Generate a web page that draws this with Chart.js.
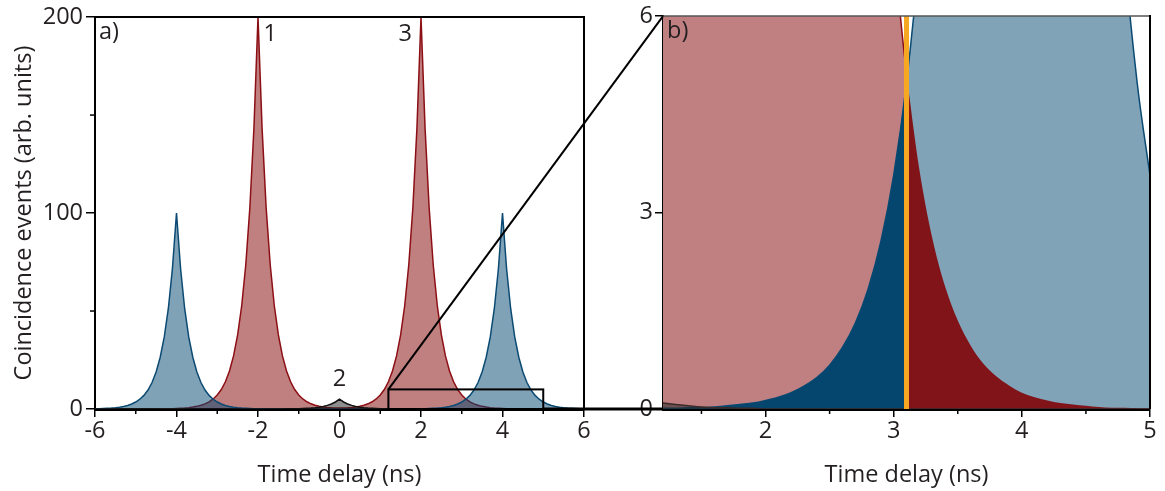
<!DOCTYPE html>
<html>
<head>
<meta charset="utf-8">
<script src="https://cdn.jsdelivr.net/npm/chart.js@4.4.1/dist/chart.umd.min.js"></script>
<style>
  html, body { margin: 0; padding: 0; background: #fff; }
  #page { position: relative; width: 1165px; height: 491px; overflow: hidden; }
  .panel { position: absolute; top: 0; }
  #chartA { left: 0; }
  #chartB { left: 600px; }
  #links { position: absolute; left: 0; top: 0; pointer-events: none; }
</style>
</head>
<body>
<div id="page">
  <canvas class="panel" id="chartA" width="600" height="491"></canvas>
  <canvas class="panel" id="chartB" width="565" height="491"></canvas>
  <canvas id="links" width="1165" height="491"></canvas>
</div>
<script>
// time delay grid (ns)
const delays = [
  -6, -5.9, -5.8, -5.7, -5.6, -5.5, -5.4, -5.3, -5.2, -5.1,
  -5, -4.9, -4.8, -4.7, -4.6, -4.5, -4.4, -4.3, -4.2, -4.1,
  -4, -3.9, -3.8, -3.7, -3.6, -3.5, -3.4, -3.3, -3.2, -3.1,
  -3, -2.9, -2.8, -2.7, -2.6, -2.5, -2.4, -2.3, -2.2, -2.1,
  -2, -1.9, -1.8, -1.7, -1.6, -1.5, -1.4, -1.3, -1.2, -1.1,
  -1, -0.9, -0.8, -0.7, -0.6, -0.5, -0.4, -0.3, -0.2, -0.1,
  0, 0.1, 0.2, 0.3, 0.4, 0.5, 0.6, 0.7, 0.8, 0.9,
  1, 1.1, 1.2, 1.3, 1.4, 1.5, 1.6, 1.7, 1.8, 1.9,
  2, 2.1, 2.2, 2.3, 2.4, 2.5, 2.6, 2.7, 2.8, 2.9,
  3, 3.1, 3.2, 3.3, 3.4, 3.5, 3.6, 3.7, 3.8, 3.9,
  4, 4.1, 4.2, 4.3, 4.4, 4.5, 4.6, 4.7, 4.8, 4.9,
  5, 5.1, 5.2, 5.3, 5.4, 5.5, 5.6, 5.7, 5.8, 5.9,
  6
];

// peaks 1 and 3 (red)
const redCounts = [
  0, 0, 0, 0, 0, 0, 0, 0, 0, 0.01,
  0.01, 0.01, 0.02, 0.02, 0.03, 0.05, 0.07, 0.09, 0.13, 0.18,
  0.25, 0.36, 0.5, 0.69, 0.97, 1.35, 1.88, 2.62, 3.66, 5.11,
  7.14, 9.96, 13.9, 19.4, 27.1, 37.8, 52.7, 73.6, 102.7, 143.3,
  200, 143.3, 102.7, 73.6, 52.7, 37.8, 27.1, 19.4, 13.9, 9.96,
  7.14, 5.11, 3.68, 2.65, 1.91, 1.4, 1.04, 0.78, 0.63, 0.54,
  0.51, 0.54, 0.63, 0.78, 1.04, 1.4, 1.91, 2.65, 3.68, 5.11,
  7.14, 9.96, 13.9, 19.4, 27.1, 37.8, 52.7, 73.6, 102.7, 143.3,
  200, 143.3, 102.7, 73.6, 52.7, 37.8, 27.1, 19.4, 13.9, 9.96,
  7.14, 5.11, 3.66, 2.62, 1.88, 1.35, 0.97, 0.69, 0.5, 0.36,
  0.25, 0.18, 0.13, 0.09, 0.07, 0.05, 0.03, 0.02, 0.02, 0.01,
  0.01, 0.01, 0, 0, 0, 0, 0, 0, 0, 0,
  0
];

// side peaks at -4 and 4 (blue)
const blueCounts = [
  0.13, 0.18, 0.25, 0.35, 0.48, 0.67, 0.94, 1.31, 1.83, 2.56,
  3.57, 4.98, 6.95, 9.7, 13.5, 18.9, 26.4, 36.8, 51.3, 71.7,
  100, 71.7, 51.3, 36.8, 26.4, 18.9, 13.5, 9.7, 6.95, 4.98,
  3.57, 2.56, 1.83, 1.31, 0.94, 0.67, 0.48, 0.35, 0.25, 0.18,
  0.13, 0.09, 0.07, 0.05, 0.03, 0.02, 0.02, 0.01, 0.01, 0.01,
  0.01, 0, 0, 0, 0, 0, 0, 0, 0, 0,
  0, 0, 0, 0, 0, 0, 0, 0, 0, 0,
  0.01, 0.01, 0.01, 0.01, 0.02, 0.02, 0.03, 0.05, 0.07, 0.09,
  0.13, 0.18, 0.25, 0.35, 0.48, 0.67, 0.94, 1.31, 1.83, 2.56,
  3.57, 4.98, 6.95, 9.7, 13.5, 18.9, 26.4, 36.8, 51.3, 71.7,
  100, 71.7, 51.3, 36.8, 26.4, 18.9, 13.5, 9.7, 6.95, 4.98,
  3.57, 2.56, 1.83, 1.31, 0.94, 0.67, 0.48, 0.35, 0.25, 0.18,
  0.13
];

// central peak 2 (grey)
const greyCounts = [
  0, 0, 0, 0, 0, 0, 0, 0, 0, 0,
  0, 0, 0, 0, 0, 0, 0, 0, 0, 0,
  0, 0, 0, 0, 0, 0, 0, 0, 0, 0,
  0, 0, 0, 0, 0, 0, 0, 0, 0, 0,
  0, 0.01, 0.01, 0.02, 0.02, 0.03, 0.05, 0.07, 0.09, 0.13,
  0.18, 0.25, 0.35, 0.49, 0.68, 0.94, 1.32, 1.84, 2.57, 3.58,
  5, 3.58, 2.57, 1.84, 1.32, 0.94, 0.68, 0.49, 0.35, 0.25,
  0.18, 0.13, 0.09, 0.07, 0.05, 0.03, 0.02, 0.02, 0.01, 0.01,
  0, 0, 0, 0, 0, 0, 0, 0, 0, 0,
  0, 0, 0, 0, 0, 0, 0, 0, 0, 0,
  0, 0, 0, 0, 0, 0, 0, 0, 0, 0,
  0, 0, 0, 0, 0, 0, 0, 0, 0, 0,
  0
];

const xTicksA = [-6, -4, -2, 0, 2, 4, 6];
const xMinorA = [-5, -3, -1, 1, 3, 5];
const yTicksA = [0, 100, 200];
const yMinorA = [50, 150];
const xTicksB = [2, 3, 4, 5];
const xMinorB = [1.5, 2.5, 3.5, 4.5];
const yTicksB = [0, 3, 6];

const zoomRange = [1.2, 5];
const zoomBoxTop = 10;
const zoomYMax = 6;
const crossingDelay = 3.1;

const peakLabels = [
  { text: '1', x: -1.7, y: 191 },
  { text: '3', x: 1.61, y: 191 },
  { text: '2', x: 0, y: 15 }
];

const textColor = '#231f20';
const fontFamily = '"Open Sans", "Noto Sans", sans-serif';
const fontSize = 23.5;
Chart.defaults.font.family = fontFamily;
Chart.defaults.font.size = fontSize;
Chart.defaults.color = textColor;

const toPoints = (vals) => delays.map((x, i) => ({ x: x, y: vals[i] }));
const inZoom = (p) => p.x >= zoomRange[0] - 1e-9 && p.x <= zoomRange[1] + 1e-9;

const minorTicks = {
  id: 'minorTicks',
  afterDraw(chart, args, opts) {
    const ctx = chart.ctx;
    const { left, bottom } = chart.chartArea;
    ctx.save();
    ctx.strokeStyle = '#000';
    ctx.lineWidth = 1.5;
    (opts.x || []).forEach(v => {
      const px = chart.scales.x.getPixelForValue(v);
      ctx.beginPath(); ctx.moveTo(px, bottom); ctx.lineTo(px, bottom + 5); ctx.stroke();
    });
    (opts.y || []).forEach(v => {
      const py = chart.scales.y.getPixelForValue(v);
      ctx.beginPath(); ctx.moveTo(left, py); ctx.lineTo(left - 5, py); ctx.stroke();
    });
    ctx.restore();
  }
};

const frame = {
  id: 'frame',
  afterDraw(chart, args, opts) {
    const ctx = chart.ctx;
    const { left, right, top, bottom } = chart.chartArea;
    ctx.save();
    ctx.lineWidth = opts.topWidth;
    ctx.strokeStyle = opts.topColor;
    ctx.beginPath(); ctx.moveTo(left, top); ctx.lineTo(right, top); ctx.stroke();
    ctx.lineWidth = 2;
    ctx.strokeStyle = '#000';
    ctx.beginPath(); ctx.moveTo(right, top - 1); ctx.lineTo(right, bottom); ctx.stroke();
    // panel letter
    ctx.fillStyle = textColor;
    ctx.font = fontSize + 'px ' + fontFamily;
    ctx.textAlign = 'left';
    ctx.textBaseline = 'middle';
    ctx.fillText(opts.letter, left + 4, top + 15);
    ctx.restore();
  }
};

const annotate = {
  id: 'annotate',
  afterDatasetsDraw(chart) {
    const ctx = chart.ctx;
    const xs = chart.scales.x, ys = chart.scales.y;
    ctx.save();
    ctx.fillStyle = textColor;
    ctx.font = fontSize + 'px ' + fontFamily;
    ctx.textAlign = 'center';
    ctx.textBaseline = 'middle';
    peakLabels.forEach(l => ctx.fillText(l.text, xs.getPixelForValue(l.x), ys.getPixelForValue(l.y)));
    // zoom window
    const x0 = xs.getPixelForValue(zoomRange[0]);
    const x1 = xs.getPixelForValue(zoomRange[1]);
    const y0 = ys.getPixelForValue(0);
    const y1 = ys.getPixelForValue(zoomBoxTop);
    ctx.strokeStyle = '#000';
    ctx.lineWidth = 2;
    ctx.strokeRect(x0, y1, x1 - x0, y0 - y1);
    ctx.restore();
  }
};

const tickSetter = (values) => (scale) => { scale.ticks = values.map(v => ({ value: v })); };

const chartA = new Chart(document.getElementById('chartA'), {
  type: 'line',
  data: {
    datasets: [
      { label: 'Peak 2', data: toPoints(greyCounts), borderColor: '#111', backgroundColor: 'rgba(30,30,30,0.5)', fill: 'origin', order: 0 },
      { label: 'Side peaks', data: toPoints(blueCounts), borderColor: '#0b4a73', backgroundColor: 'rgba(2,70,112,0.5)', fill: 'origin', order: 1 },
      { label: 'Peaks 1, 3', data: toPoints(redCounts), borderColor: '#8c0f15', backgroundColor: 'rgba(129,1,2,0.5)', fill: 'origin', order: 2 }
    ]
  },
  options: {
    responsive: false,
    animation: false,
    layout: { padding: { top: 16, right: 16, left: 0, bottom: 0 } },
    elements: { point: { radius: 0 }, line: { borderWidth: 1.5, tension: 0 } },
    plugins: {
      legend: { display: false },
      tooltip: { enabled: false },
      minorTicks: { x: xMinorA, y: yMinorA },
      frame: { letter: 'a)', topColor: '#000', topWidth: 2 }
    },
    scales: {
      x: {
        type: 'linear', min: -6, max: 6,
        afterBuildTicks: tickSetter(xTicksA),
        afterFit: (s) => { s.height = 82; },
        grid: { drawOnChartArea: false, tickLength: 8, color: '#000', lineWidth: 1.5 },
        border: { color: '#000', width: 3 },
        ticks: { padding: 0, maxRotation: 0 },
        title: { display: true, text: 'Time delay (ns)', padding: { top: 0, bottom: 2 } }
      },
      y: {
        type: 'linear', min: 0, max: 200,
        afterBuildTicks: tickSetter(yTicksA),
        afterFit: (s) => { s.width = 95; },
        grid: { drawOnChartArea: false, tickLength: 9, color: '#000', lineWidth: 1.5 },
        border: { color: '#000', width: 2 },
        ticks: { padding: 3 },
        title: { display: true, text: 'Coincidence events (arb. units)', padding: { top: 10, bottom: 0 } }
      }
    }
  },
  plugins: [minorTicks, frame, annotate]
});

const redZoom = toPoints(redCounts).filter(inZoom);
const blueZoom = toPoints(blueCounts).filter(inZoom);
const greyZoom = toPoints(greyCounts).filter(inZoom);

const chartB = new Chart(document.getElementById('chartB'), {
  type: 'line',
  data: {
    datasets: [
      { label: 'Crossing', data: [{ x: crossingDelay, y: 0 }, { x: crossingDelay, y: zoomYMax }], borderColor: '#f7a823', borderWidth: 5, fill: false, order: 0 },
      { label: 'Peak 2', data: greyZoom, borderColor: '#3a2a2a', backgroundColor: 'rgba(40,40,40,0.55)', fill: 'origin', order: 1 },
      { label: 'Peak 3 tail', data: redZoom.filter(p => p.x >= crossingDelay), borderWidth: 0, backgroundColor: '#801419', fill: 'origin', order: 2 },
      { label: 'Side peak tail', data: blueZoom.filter(p => p.x <= crossingDelay), borderWidth: 0, backgroundColor: '#05466e', fill: 'origin', order: 3 },
      { label: 'Side peak', data: blueZoom, borderColor: '#0b4a73', backgroundColor: '#80a3b8', fill: 'origin', order: 4 },
      { label: 'Peak 3', data: redZoom, borderColor: '#8c0f15', backgroundColor: '#c08081', fill: 'origin', order: 5 }
    ]
  },
  options: {
    responsive: false,
    animation: false,
    layout: { padding: { top: 16, right: 15, left: 0, bottom: 0 } },
    elements: { point: { radius: 0 }, line: { borderWidth: 1.5, cubicInterpolationMode: 'monotone' } },
    datasets: { line: { clip: 0 } },
    plugins: {
      legend: { display: false },
      tooltip: { enabled: false },
      minorTicks: { x: xMinorB, y: [] },
      frame: { letter: 'b)', topColor: '#555', topWidth: 1.5 }
    },
    scales: {
      x: {
        type: 'linear', min: zoomRange[0], max: zoomRange[1],
        afterBuildTicks: tickSetter(xTicksB),
        afterFit: (s) => { s.height = 82; },
        grid: { drawOnChartArea: false, tickLength: 8, color: '#000', lineWidth: 1.5 },
        border: { color: '#000', width: 3 },
        ticks: { padding: 0, maxRotation: 0 },
        title: { display: true, text: 'Time delay (ns)', padding: { top: 0, bottom: 2 } }
      },
      y: {
        type: 'linear', min: 0, max: zoomYMax,
        afterBuildTicks: tickSetter(yTicksB),
        afterFit: (s) => { s.width = 63; },
        grid: { drawOnChartArea: false, tickLength: 8, color: '#000', lineWidth: 1.5 },
        border: { color: '#000', width: 2 },
        ticks: { padding: 2 }
      }
    }
  },
  plugins: [minorTicks, frame]
});

// lines joining the zoom window of a) to panel b)
const lc = document.getElementById('links').getContext('2d');
const ax = chartA.scales.x, ay = chartA.scales.y;
const areaB = chartB.chartArea;
const offsetB = 600;
lc.strokeStyle = '#000';
lc.lineWidth = 2;
lc.beginPath();
lc.moveTo(ax.getPixelForValue(zoomRange[0]), ay.getPixelForValue(zoomBoxTop));
lc.lineTo(offsetB + areaB.left, areaB.top);
lc.stroke();
lc.lineWidth = 3;
lc.beginPath();
lc.moveTo(ax.getPixelForValue(zoomRange[1]), ay.getPixelForValue(0));
lc.lineTo(offsetB + areaB.left, areaB.bottom);
lc.stroke();
</script>
</body>
</html>
